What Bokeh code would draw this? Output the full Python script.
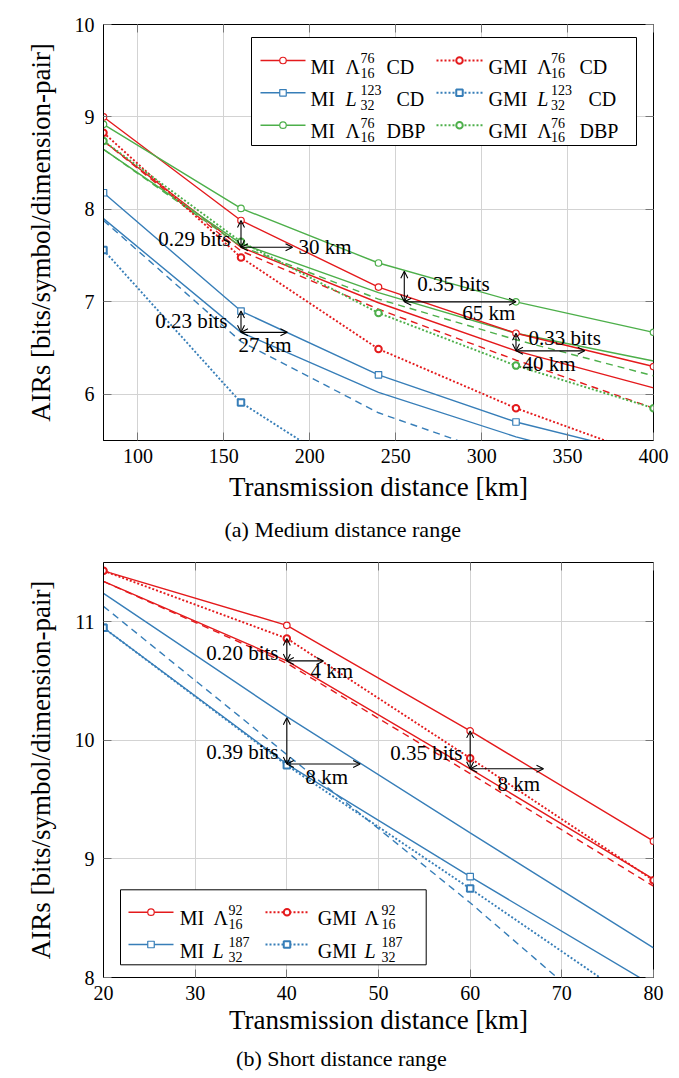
from bokeh.plotting import figure
from bokeh.models import (Range1d, FixedTicker, LinearAxis, Title, Arrow, OpenHead,
                          BoxAnnotation, Label)
from bokeh.layouts import column
from bokeh.embed import file_html
from bokeh.resources import INLINE

RED, BLUE, GREEN = "#E41A1C", "#377EB8", "#4DAF4A"
FONT = "Liberation Serif"

# ------------------------- data (a) medium distance -------------------------
dist_med = [80, 160, 240, 320, 400]
mi_lam76_cd = [9.00, 7.88, 7.16, 6.66, 6.30]
gmi_lam76_cd = [8.83, 7.48, 6.49, 5.85, 5.31]
mi_base_cd = [8.74, 7.59, 6.99, 6.47, 6.07]
gmi_base_cd = [8.74, 7.55, 6.92, 6.37, 5.85]
mi_l123_cd = [8.18, 6.90, 6.21, 5.70, 5.33]
gmi_l123_cd = [7.56, 5.91, 4.96, 4.40, 3.90]
mi_base_l_cd = [7.90, 6.67, 6.02, 5.54, 5.15]
gmi_base_l_cd = [7.88, 6.57, 5.80, 5.28, 4.85]
mi_lam76_dbp = [8.92, 8.01, 7.42, 7.00, 6.67]
gmi_lam76_dbp = [8.74, 7.65, 6.88, 6.31, 5.85]
mi_base_dbp = [8.65, 7.63, 7.10, 6.66, 6.36]
gmi_base_dbp = [8.65, 7.60, 7.03, 6.59, 6.20]

med_xticks = [100, 150, 200, 250, 300, 350, 400]
med_yticks = [6, 7, 8, 9, 10]

med_arrow_x = [160, 160, 255, 320]
med_arrow_top = [7.88, 6.90, 7.33, 6.66]
med_arrow_bot = [7.59, 6.67, 7.00, 6.47]
med_arrow_len = [30, 27, 65, 40]
med_bits = ["0.29 bits", "0.23 bits", "0.35 bits", "0.33 bits"]
med_km = ["30 km", "27 km", "65 km", "40 km"]

# ------------------------- data (b) short distance --------------------------
dist_short = [20, 40, 60, 80]
mi_lam92 = [11.43, 10.97, 10.08, 9.15]
gmi_lam92 = [11.43, 10.86, 9.85, 8.82]
mi_base_lam = [11.34, 10.67, 9.76, 8.83]
gmi_base_lam = [11.34, 10.65, 9.72, 8.77]
mi_l187 = [10.95, 9.80, 8.85, 7.93]
gmi_l187 = [10.95, 9.79, 8.75, 7.69]
mi_base_l = [11.24, 10.20, 9.22, 8.25]
gmi_base_l = [11.13, 9.88, 8.63, 7.30]

short_xticks = [20, 30, 40, 50, 60, 70, 80]
short_yticks = [8, 9, 10, 11]

short_arrow_x = [40, 40, 60]
short_arrow_top = [10.86, 10.19, 10.08]
short_arrow_bot = [10.67, 9.80, 9.76]
short_arrow_len = [4, 8, 8]
short_bits = ["0.20 bits", "0.39 bits", "0.35 bits"]
short_km = ["4 km", "8 km", "8 km"]

# ------------------------------ layout constants -----------------------------
W = 671
STYLE = {
    "solid": dict(line_dash="solid", line_width=1.4),
    "dotted": dict(line_dash="2 2", line_width=1.9),
    "dashed": dict(line_dash="7 5", line_width=1.4),
}


class Frame:
    def __init__(self, xr, yr, left, top, w, h):
        self.xr, self.yr, self.left, self.top, self.w, self.h = xr, yr, left, top, w, h

    def x(self, px):
        return self.xr[0] + (px - self.left) / self.w * (self.xr[1] - self.xr[0])

    def y(self, py):
        return self.yr[1] - (py - self.top) / self.h * (self.yr[1] - self.yr[0])

    def px(self, x):
        return self.left + (x - self.xr[0]) / (self.xr[1] - self.xr[0]) * self.w

    def py(self, y):
        return self.top + (self.yr[1] - y) / (self.yr[1] - self.yr[0]) * self.h


def make_fig(xr, yr, xticks, yticks, height, btop, bbottom, xlabel_standoff):
    p = figure(width=W, height=height, x_range=Range1d(*xr), y_range=Range1d(*yr),
               output_backend="svg", toolbar_location=None,
               min_border_left=103, min_border_right=18,
               min_border_top=btop, min_border_bottom=bbottom)
    p.xaxis.ticker = FixedTicker(ticks=xticks)
    p.yaxis.ticker = FixedTicker(ticks=yticks)
    for ax in (p.xaxis[0], p.yaxis[0]):
        ax.major_tick_in = 8
        ax.major_tick_out = 0
        ax.minor_tick_line_color = None
        ax.major_tick_line_color = "#777777"
        ax.axis_line_color = "black"
        ax.major_label_text_font = FONT
        ax.major_label_text_font_size = "20px"
        ax.major_label_text_color = "black"
        ax.axis_label_text_font = FONT
        ax.axis_label_text_font_size = "27px"
        ax.axis_label_text_font_style = "normal"
        ax.axis_label_text_color = "black"
    p.xaxis.major_label_standoff = 8
    p.yaxis.major_label_standoff = 9
    p.xaxis.axis_label = "Transmission distance [km]"
    p.yaxis.axis_label = "AIRs [bits/symbol/dimension-pair]"
    p.xaxis.axis_label_standoff = xlabel_standoff
    p.yaxis.axis_label_standoff = 16
    for loc, tk in (("above", xticks), ("right", yticks)):
        ax = LinearAxis(ticker=FixedTicker(ticks=tk), major_label_text_font_size="0px",
                        major_label_standoff=0, major_tick_in=8, major_tick_out=0,
                        minor_tick_line_color=None, axis_line_color=None,
                        major_tick_line_color="#777777", major_label_text_color=None)
        p.add_layout(ax, loc)
    p.grid.grid_line_color = "#d3d3d3"
    p.grid.grid_line_width = 1
    p.outline_line_color = "black"
    p.outline_line_alpha = 1
    p.outline_line_width = 1
    p.background_fill_color = "white"
    p.border_fill_color = "white"
    return p


def series(p, x, y, color, kind, marker=None, level="glyph"):
    p.line(x, y, line_color=color, level=level, **STYLE[kind])
    if marker:
        lw = 2.0 if kind == "dotted" else 1.2
        p.scatter(x, y, marker=marker, size=6.5, line_color=color, fill_color="white",
                  line_width=lw, level=level)


def arrows(p, fr, xs, tops, bots, lens, bits, kms, offs):
    for i in range(len(xs)):
        for (xa, ya, xb, yb) in ((xs[i], tops[i], xs[i], bots[i]),
                                 (xs[i], bots[i], xs[i] + lens[i], bots[i])):
            p.add_layout(Arrow(x_start=xa, y_start=ya, x_end=xb, y_end=yb,
                               line_color="black", line_width=1.1,
                               start=OpenHead(size=7, line_width=1.1, line_color="black"),
                               end=OpenHead(size=7, line_width=1.1, line_color="black")))
        bx, by = fr.px(xs[i]), fr.py(bots[i])
        (a1, dx1, dy1), (a2, dx2, dy2) = offs[i]
        for txt, al, dx, dy in ((bits[i], a1, dx1, dy1), (kms[i], a2, dx2, dy2)):
            p.add_layout(Label(x=fr.x(bx + dx), y=fr.y(by + dy), text=txt,
                               text_align=al, text_baseline="middle", text_font=FONT,
                               text_font_size="21px", text_color="black"))


def legend(p, fr, box, rows, cols, entries):
    l, r, t, b = box
    p.add_layout(BoxAnnotation(left=fr.x(l), right=fr.x(r), top=fr.y(t), bottom=fr.y(b),
                               fill_color="white", fill_alpha=1, line_color="black",
                               line_width=1, line_alpha=1, level="annotation"))
    for (ci, ri, color, kind, marker, parts) in entries:
        c = cols[ci]
        yb = rows[ri]
        ym = yb - 6
        lx = [fr.x(c["line"][0]), fr.x(c["line"][1])]
        series(p, lx, [fr.y(ym), fr.y(ym)], color, kind, None, level="overlay")
        lw = 2.0 if kind == "dotted" else 1.2
        p.scatter([fr.x(c["mark"])], [fr.y(ym)], marker=marker, size=6.5, line_color=color,
                  fill_color="white", line_width=lw, level="overlay")
        for (txt, px, dy, size, style) in parts:
            p.add_layout(Label(x=fr.x(px), y=fr.y(yb + dy), text=txt, text_align="left",
                               text_baseline="alphabetic", text_font=FONT,
                               text_font_size=size, text_font_style=style,
                               text_color="black", level="overlay"))


def entry(prefix, sym, sup, sub, suffix, pos, italic):
    x_pre, x_sym, x_scr, x_suf = pos
    parts = [(prefix, x_pre, 0, "20px", "normal"),
             (sym, x_sym, 0, "20px", "italic" if italic else "normal"),
             (sup, x_scr, -8.5, "14px", "normal"),
             (sub, x_scr, 6, "14px", "normal")]
    if suffix:
        parts.append((suffix, x_suf, 0, "20px", "normal"))
    return parts


# ------------------------------- figure (a) ----------------------------------
fa = Frame((80, 400), (5.5, 10), 103, 24, 550, 416)
pa = make_fig((80, 400), (5.5, 10), med_xticks, med_yticks, 553, 24, 113, 6)

series(pa, dist_med, mi_base_cd, RED, "solid")
series(pa, dist_med, gmi_base_cd, RED, "dashed")
series(pa, dist_med, mi_base_l_cd, BLUE, "solid")
series(pa, dist_med, gmi_base_l_cd, BLUE, "dashed")
series(pa, dist_med, mi_base_dbp, GREEN, "solid")
series(pa, dist_med, gmi_base_dbp, GREEN, "dashed")
series(pa, dist_med, mi_lam76_cd, RED, "solid", "circle")
series(pa, dist_med, gmi_lam76_cd, RED, "dotted", "circle")
series(pa, dist_med, mi_l123_cd, BLUE, "solid", "square")
series(pa, dist_med, gmi_l123_cd, BLUE, "dotted", "square")
series(pa, dist_med, mi_lam76_dbp, GREEN, "solid", "circle")
series(pa, dist_med, gmi_lam76_dbp, GREEN, "dotted", "circle")

med_offs = [(("right", -10.5, -8.5), ("left", 57.5, 0)),
            (("right", -13.5, -11), ("left", -2.5, 13)),
            (("left", 13, -18), ("left", 58, 11)),
            (("left", 12.5, -13), ("left", 6.5, 13))]
arrows(pa, fa, med_arrow_x, med_arrow_top, med_arrow_bot, med_arrow_len,
       med_bits, med_km, med_offs)

cols_a = [dict(line=(260, 305), mark=282.5), dict(line=(436, 482), mark=459)]
rows_a = [66, 98.3, 130.7]
pos1_lam = (310, 345, 360, 386)
pos1_l = (310, 345, 360, 396)
pos2_lam = (488, 536.7, 550.5, 579)
pos2_l = (488, 536.7, 550.5, 588)
ent_a = [
    (0, 0, RED, "solid", "circle", entry("MI", "Λ", "76", "16", "CD", pos1_lam, False)),
    (0, 1, BLUE, "solid", "square", entry("MI", "L", "123", "32", "CD", pos1_l, True)),
    (0, 2, GREEN, "solid", "circle", entry("MI", "Λ", "76", "16", "DBP", pos1_lam, False)),
    (1, 0, RED, "dotted", "circle", entry("GMI", "Λ", "76", "16", "CD", pos2_lam, False)),
    (1, 1, BLUE, "dotted", "square", entry("GMI", "L", "123", "32", "CD", pos2_l, True)),
    (1, 2, GREEN, "dotted", "circle", entry("GMI", "Λ", "76", "16", "DBP", pos2_lam, False)),
]
legend(pa, fa, (251, 636, 37, 145), rows_a, cols_a, ent_a)

pa.add_layout(Title(text="(a) Medium distance range", align="left", offset=121,
                    text_font=FONT, text_font_size="22px", text_font_style="normal",
                    text_color="black", standoff=21), "below")

# ------------------------------- figure (b) ----------------------------------
off = 553
fb = Frame((20, 80), (8, 11.5), 103, 9, 550, 415)
pb = make_fig((20, 80), (8, 11.5), short_xticks, short_yticks, 1078 - off, 9, 101, 2)

series(pb, dist_short, mi_base_lam, RED, "solid")
series(pb, dist_short, gmi_base_lam, RED, "dashed")
series(pb, dist_short, mi_base_l, BLUE, "solid")
series(pb, dist_short, gmi_base_l, BLUE, "dashed")
series(pb, dist_short, mi_lam92, RED, "solid", "circle")
series(pb, dist_short, gmi_lam92, RED, "dotted", "circle")
series(pb, dist_short, mi_l187, BLUE, "solid", "square")
series(pb, dist_short, gmi_l187, BLUE, "dotted", "square")

short_offs = [(("right", -8.3, -8.3), ("left", 23.7, 10)),
              (("right", -8.3, -11.6), ("left", 18.7, 13.4)),
              (("right", -7.7, -16.3), ("left", 27.3, 15))]
arrows(pb, fb, short_arrow_x, short_arrow_top, short_arrow_bot, short_arrow_len,
       short_bits, short_km, short_offs)

cols_b = [dict(line=(128, 173), mark=150.5), dict(line=(265, 308), mark=286.5)]
rows_b = [917.7 - off, 950 - off]
ent_b = [
    (0, 0, RED, "solid", "circle", entry("MI", "Λ", "92", "16", None, (179.3, 213, 228, 0), False)),
    (0, 1, BLUE, "solid", "square", entry("MI", "L", "187", "32", None, (179.3, 212, 228, 0), True)),
    (1, 0, RED, "dotted", "circle", entry("GMI", "Λ", "92", "16", None, (317.3, 364, 381, 0), False)),
    (1, 1, BLUE, "dotted", "square", entry("GMI", "L", "187", "32", None, (317.3, 364, 381, 0), True)),
]
legend(pb, fb, (120, 425.7, 889.3 - off, 964.3 - off), rows_b, cols_b, ent_b)

pb.add_layout(Title(text="(b) Short distance range", align="left", offset=132.6,
                    text_font=FONT, text_font_size="22px", text_font_style="normal",
                    text_color="black", standoff=12), "below")

layout = column(pa, pb, spacing=0)
open("out.html", "w").write(file_html(layout, INLINE))
